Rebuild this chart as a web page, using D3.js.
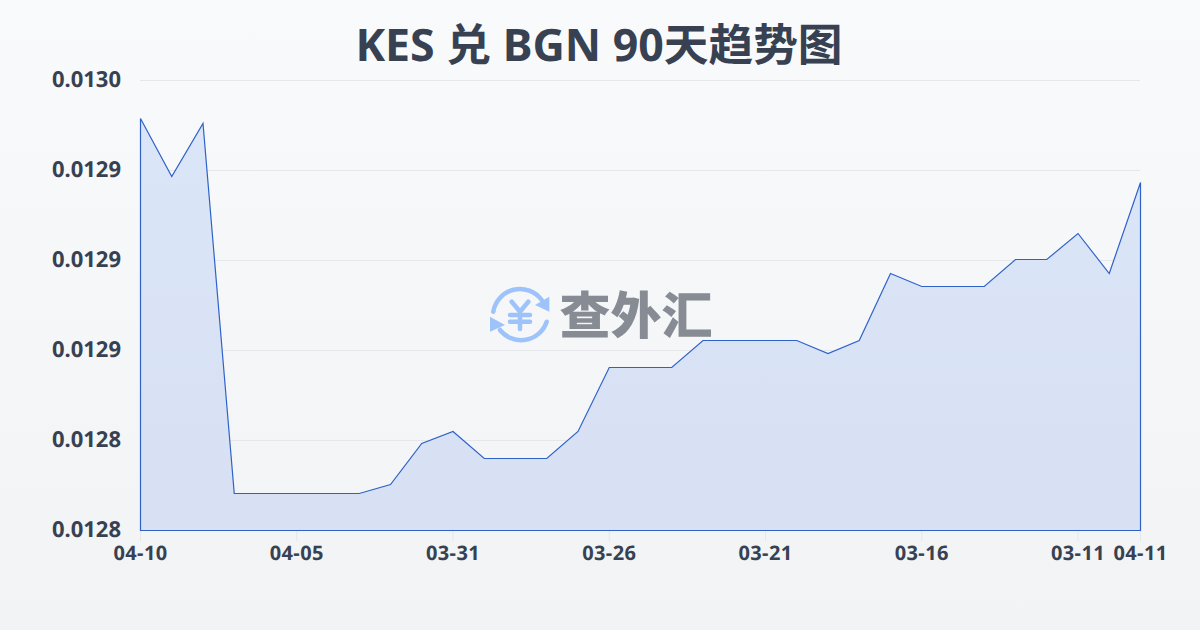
<!DOCTYPE html>
<html><head><meta charset="utf-8">
<script src="https://cdn.jsdelivr.net/npm/d3@7/dist/d3.min.js"></script>
<style>html,body{margin:0;padding:0;overflow:hidden}svg{display:block}text{font-family:"Noto Sans","Noto Sans CJK SC",sans-serif;text-rendering:geometricPrecision}</style>
</head><body><svg id="c" width="1200" height="630"></svg>
<script>
const titleText = "KES 兑 BGN 90天趋势图";
const logoText = "查外汇";
const dates = ["04-10","04-09","04-08","04-07","04-06","04-05","04-04","04-03","04-02","04-01","03-31","03-30","03-29","03-28","03-27","03-26","03-25","03-24","03-23","03-22","03-21","03-20","03-19","03-18","03-17","03-16","03-15","03-14","03-13","03-12","03-11","03-10","04-11"];
const rates = [0.0129648,0.0129416,0.0129628,0.0128148,0.0128148,0.0128148,0.0128148,0.0128148,0.0128184,0.0128348,0.0128396,0.0128288,0.0128288,0.0128288,0.0128396,0.0128652,0.0128652,0.0128652,0.012876,0.012876,0.012876,0.012876,0.0128708,0.012876,0.0129028,0.0128976,0.0128976,0.0128976,0.0129084,0.0129084,0.0129188,0.0129028,0.0129392];
const yTicks = [0.0128,0.012836,0.012872,0.012908,0.012944,0.01298];
const xTicks = ["04-10","04-05","03-31","03-26","03-21","03-16","03-11","04-11"];

const svg = d3.select("#c");
const defs = svg.append("defs");
const bg = defs.append("linearGradient").attr("id","bg").attr("x1",0).attr("y1",0).attr("x2",0).attr("y2",1);
bg.append("stop").attr("offset",0).attr("stop-color","#f8fafc");
bg.append("stop").attr("offset",1).attr("stop-color","#f1f3f5");
const ag = defs.append("linearGradient").attr("id","ag").attr("x1",0).attr("y1",0).attr("x2",0).attr("y2",1);
ag.append("stop").attr("offset",0).attr("stop-color","#dae6f8");
ag.append("stop").attr("offset",1).attr("stop-color","#d8e0f3");
svg.append("rect").attr("width",1200).attr("height",630).attr("fill","url(#bg)");

const x = d3.scalePoint().domain(dates).range([140.5,1140.5]);
const y = d3.scaleLinear().domain([0.0128,0.01298]).range([530.5,80.5]);
const ink = "#374151";

svg.append("text").attr("x",599).attr("y",61).attr("text-anchor","middle")
  .attr("font-size",44.7).attr("font-weight",700).attr("fill",ink).text(titleText);

// grid
svg.append("g").selectAll("line").data(yTicks.slice(1)).join("line")
  .attr("x1",140).attr("x2",1140).attr("y1",d=>y(d)).attr("y2",d=>y(d))
  .attr("stroke","#e5e7eb").attr("stroke-width",1);

// x ticks
svg.append("g").selectAll("line").data(xTicks).join("line")
  .attr("x1",d=>x(d)).attr("x2",d=>x(d)).attr("y1",530).attr("y2",541)
  .attr("stroke","#e5e7eb");

// area
const area = d3.area().x((d,i)=>x(dates[i])).y0(y(0.0128)).y1(d=>y(d));
svg.append("path").datum(rates).attr("d",area).attr("fill","url(#ag)")
  .attr("stroke","#2f62c9").attr("stroke-width",1.2);

// watermark
const logo = svg.append("g").attr("transform","translate(520,315)");
const blue = "#9ec3fb";
logo.append("path").attr("d","M-26.7,-3.3A27,27 0 0 1 21.7,-15").attr("fill","none").attr("stroke",blue).attr("stroke-width",4.5).attr("stroke-linecap","round");
logo.append("path").attr("d","M26.7,6.7A27,27 0 0 1 -20,15").attr("fill","none").attr("stroke",blue).attr("stroke-width",4.5).attr("stroke-linecap","round");
logo.append("path").attr("d","M29.3,-18.3L29.3,-3.3L15,-10Z").attr("fill",blue);
logo.append("path").attr("d","M-30,1.7L-30,16.7L-15,10Z").attr("fill",blue);
logo.append("path").attr("d","M-8.3,-13.3L0,-3.3L8.3,-13.3M-10,0H10M-10,6.7H10M0,-3.3V14").attr("fill","none").attr("stroke",blue).attr("stroke-width",4.5).attr("stroke-linecap","round").attr("stroke-linejoin","round");
svg.append("text").attr("x",636).attr("y",334).attr("text-anchor","middle")
  .attr("font-size",51).attr("font-weight",900).attr("fill","#878b93").text(logoText);

// labels
svg.append("g").selectAll("text").data(yTicks).join("text")
  .attr("x",121).attr("y",d=>y(d)+6.5).attr("text-anchor","end")
  .attr("font-size",22).attr("font-weight",700).attr("fill",ink).text(d=>d.toFixed(4));
svg.append("g").selectAll("text").data(xTicks).join("text")
  .attr("x",d=>x(d)).attr("y",560).attr("text-anchor","middle")
  .attr("font-size",20).attr("letter-spacing",0.4).attr("font-weight",700).attr("fill",ink).text(d=>d);
</script></body></html>
